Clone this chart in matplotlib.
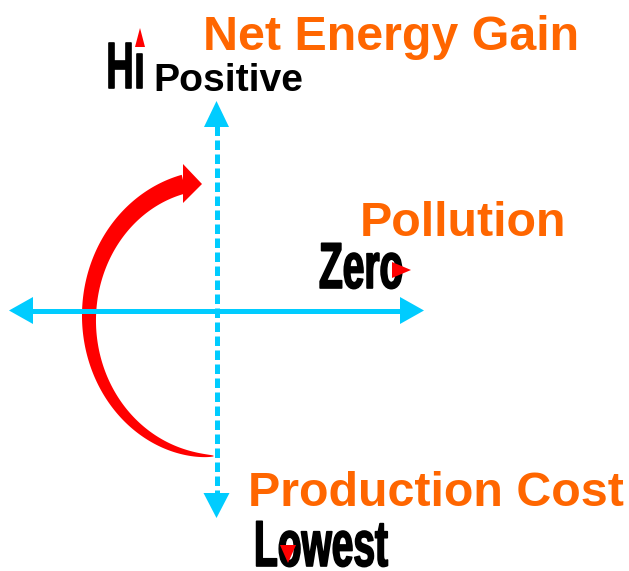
import numpy as np
import matplotlib.pyplot as plt
from matplotlib.patches import Polygon
from matplotlib.transforms import Affine2D
import matplotlib.patheffects as pe

# 라벨
orange_labels = ['Net Energy Gain', 'Pollution', 'Production Cost']
black_labels = ['Positive']
condensed_words = ['H\u0131', 'Zero', 'Lowest']

ORANGE = '#FF6600'
CYAN = '#00CCFF'
RED = '#FF0000'


class Stretch(pe.AbstractPathEffect):
    """글자를 세로로 늘리고 약간 굵게 (좁은 굵은 글꼴 흉내)"""

    def __init__(self, sy, lw=0.0, color='black', dy=0.0):
        super().__init__()
        self.sy = sy
        self.lw = lw
        self.color = color
        self.dy = dy  # 픽셀 단위 세로 이동 (아래로 +)

    def draw_path(self, renderer, gc, tpath, affine, rgbFace=None):
        gc0 = renderer.new_gc()
        gc0.copy_properties(gc)
        gc0.set_linewidth(self.lw)
        gc0.set_foreground(self.color)
        trans = Affine2D().scale(1, self.sy) + affine + Affine2D().translate(0, -self.dy)
        renderer.draw_path(gc0, tpath, trans, rgbFace)
        gc0.restore()


W, H = 629, 571
fig = plt.figure(figsize=(W / 100, H / 100), dpi=100)
ax = fig.add_axes([0, 0, 1, 1])
ax.set_xlim(0, W)
ax.set_ylim(H, 0)
ax.axis('off')

# 1. 가로축 (실선 양방향 화살표)
ax.plot([30, 402], [310.5, 310.5], color=CYAN, lw=5 * 0.72, solid_capstyle='butt')
ax.add_patch(Polygon([[9, 310.5], [33, 297], [33, 324]], color=CYAN, lw=0))
ax.add_patch(Polygon([[424, 310.5], [400, 297], [400, 324]], color=CYAN, lw=0))

# 2. 세로축 (점선 양방향 화살표)
ax.plot([216.5, 216.5], [126, 494], color=CYAN, lw=5 * 0.72,
        linestyle=(0, (9.5 / 5, 4.5 / 5)), dash_capstyle='butt')
ax.add_patch(Polygon([[216.5, 101], [204, 127], [229, 127]], color=CYAN, lw=0))
ax.add_patch(Polygon([[216.5, 518], [203.5, 493], [229.5, 493]], color=CYAN, lw=0))

# 3. 빨간 곡선 화살표 (점점 굵어지는 호)
cx, cy, a, b = 214, 318, 125, 138
th_max = np.pi - np.arcsin((cx - 184) / a)
th = np.linspace(0, th_max, 300)
w = 19 * (th / th_max) ** 0.5
outer = np.c_[cx - (a + w / 2) * np.sin(th), cy + (b + w / 2) * np.cos(th)]
inner = np.c_[cx - (a - w / 2) * np.sin(th), cy + (b - w / 2) * np.cos(th)]
ax.add_patch(Polygon(np.r_[outer, inner[::-1]], color=RED, lw=0))
ax.add_patch(Polygon([[202, 184], [183, 164], [183, 203]], color=RED, lw=0))

# 4. 텍스트
bold = dict(fontfamily='Liberation Sans', fontweight='bold')
ax.text(203, 50, orange_labels[0], color=ORANGE, fontsize=34.8, **bold)
ax.text(360, 236, orange_labels[1], color=ORANGE, fontsize=34.8, **bold)
ax.text(248, 506, orange_labels[2], color=ORANGE, fontsize=34.8, **bold)
ax.text(153, 91, black_labels[0], color='black', fontsize=28.2, **bold)

narrow = dict(fontfamily='Liberation Sans', fontweight='bold', color='black',
              fontsize=28)
ax.text(106, 88, condensed_words[0], path_effects=[Stretch(1.67, lw=1.2)], **narrow)
ax.text(319, 288, condensed_words[1], path_effects=[Stretch(1.67, lw=1.2)], **narrow)
ax.text(254, 562, condensed_words[2], path_effects=[Stretch(1.67, lw=1.2, dy=4)], **narrow)

# 글자 안/위의 빨간 삼각형
ax.add_patch(Polygon([[140, 28], [135, 47], [145, 47]], color=RED, lw=0, zorder=5))
ax.add_patch(Polygon([[411, 270], [392, 262], [392, 278]], color=RED, lw=0, zorder=5))
ax.add_patch(Polygon([[280, 545], [296, 545], [288, 563]], color=RED, lw=0, zorder=5))

fig.savefig('out.png', dpi=100)
